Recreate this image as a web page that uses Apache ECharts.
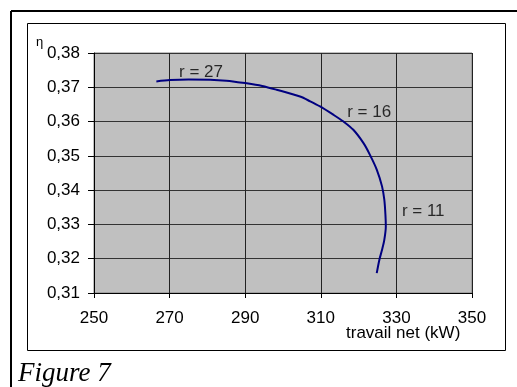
<!DOCTYPE html>
<html>
<head>
<meta charset="utf-8">
<script src="https://cdn.jsdelivr.net/npm/echarts@6/dist/echarts.min.js"></script>
<style>
html,body{margin:0;padding:0;background:#fff;}
#chart{width:517px;height:387px;}
</style>
</head>
<body>
<div id="chart"></div>
<script>
// Data
var workNet = [266.5, 270.1, 275.0, 280.7, 285.0, 288.6, 290.4, 294.5, 298.3, 304.5, 307.2, 309.8, 313.3, 316.0, 318.6, 321.3, 323.0, 324.8, 326.2, 326.8, 327.1, 327.2, 326.8, 326.2, 325.5, 324.8];
var efficiency = [0.3717, 0.3721, 0.3723, 0.3722, 0.3719, 0.3714, 0.3712, 0.3704, 0.3693, 0.3673, 0.3659, 0.3644, 0.3620, 0.3600, 0.3576, 0.3537, 0.3503, 0.3460, 0.3411, 0.3372, 0.3328, 0.3294, 0.3255, 0.3226, 0.3197, 0.3158];
var xTicks = [250, 270, 290, 310, 330, 350];
var yTicks = [0.31, 0.32, 0.33, 0.34, 0.35, 0.36, 0.37, 0.38];
var rLabels = ['r = 27', 'r = 16', 'r = 11'];
var rLabelX = [278.3, 322.8, 337.1];
var rLabelY = [0.3745, 0.3626, 0.3338];
var xTitle = 'travail net (kW)';
var yTitle = 'η';
var caption = 'Figure 7';

var chart = echarts.init(document.getElementById('chart'), null, {renderer: 'canvas'});
var FONT = 'Liberation Sans, Arial, sans-serif';
var lineData = workNet.map(function (x, i) { return [x, efficiency[i]]; });
var labelData = rLabels.map(function (t, i) { return {value: [rLabelX[i], rLabelY[i]], name: t}; });

chart.setOption({
  animation: false,
  backgroundColor: '#fff',
  grid: {left: 94, top: 53, right: 45, bottom: 94, show: true, backgroundColor: '#c0c0c0', borderColor: '#808080', borderWidth: 1},
  xAxis: {
    type: 'value', min: xTicks[0], max: xTicks[xTicks.length - 1], interval: 20,
    axisLine: {onZero: false, lineStyle: {color: '#000', width: 1}},
    axisTick: {show: true, inside: false, length: 5, lineStyle: {color: '#000'}},
    axisLabel: {color: '#000', fontFamily: FONT, fontSize: 17, margin: 17},
    splitLine: {show: true, lineStyle: {color: '#222', width: 1}}
  },
  yAxis: {
    type: 'value', min: yTicks[0], max: yTicks[yTicks.length - 1], interval: 0.01,
    axisLine: {show: true, onZero: false, lineStyle: {color: '#000', width: 1}},
    axisTick: {show: true, inside: false, length: 6, lineStyle: {color: '#000'}},
    axisLabel: {color: '#000', fontFamily: FONT, fontSize: 17, margin: 14,
      formatter: function (v) { return v.toFixed(2).replace('.', ','); }},
    splitLine: {show: true, lineStyle: {color: '#333', width: 1}}
  },
  series: [
    {
      type: 'line', data: lineData, smooth: 0.3, showSymbol: false, symbol: 'none',
      lineStyle: {color: '#000080', width: 2}
    },
    {
      type: 'scatter', data: labelData, symbolSize: 0,
      label: {show: true, position: 'inside', formatter: '{b}', color: '#000', fontFamily: FONT, fontSize: 17}
    }
  ],
  graphic: [
    {type: 'line', shape: {x1: 11, y1: 11, x2: 517, y2: 11}, style: {stroke: '#000', lineWidth: 2}},
    {type: 'line', shape: {x1: 11, y1: 11, x2: 11, y2: 387}, style: {stroke: '#000', lineWidth: 2}},
    {type: 'rect', shape: {x: 27.5, y: 23.5, width: 478, height: 327}, style: {fill: 'none', stroke: '#000', lineWidth: 1}, z: -1},
    {type: 'text', left: 36, top: 36, style: {text: yTitle, fontFamily: FONT, fontSize: 13, fill: '#000'}},
    {type: 'text', left: 346, top: 325, style: {text: xTitle, fontFamily: FONT, fontSize: 17, fill: '#000'}},
    {type: 'text', left: 18, top: 360, style: {text: caption, fontFamily: 'Liberation Serif, Times New Roman, serif', fontStyle: 'italic', fontSize: 27, fill: '#000'}}
  ]
});
</script>
</body>
</html>
